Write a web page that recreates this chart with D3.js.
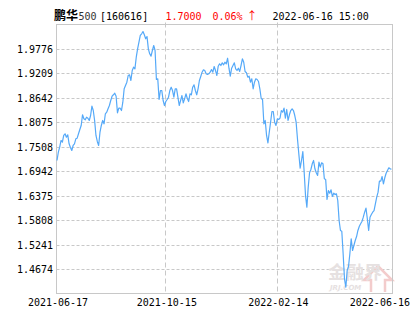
<!DOCTYPE html>
<html>
<head>
<meta charset="utf-8">
<script src="https://cdn.jsdelivr.net/npm/d3@7/dist/d3.min.js"></script>
<style>
  body { margin: 0; background: #fff; }
  svg { display: block; }
</style>
</head>
<body>
<div class="chart"></div>
<script>
'use strict'

const d3 = window.d3
const width = 415
const height = 330

// header
const fundName = '鹏华'
const fundSuffix = '500'
const fundCode = '[160616]'
const lastNav = '1.7000'
const lastChange = '0.06%'
const lastArrow = '↑'
const lastTime = '2022-06-16 15:00'

// axes
const xTickLabels = ['2021-06-17', '2021-10-15', '2022-02-14', '2022-06-16']
const xTickIndex = [0, 81, 164, 249]
const yTicks = [1.4674, 1.5241, 1.5808, 1.6375, 1.6942, 1.7508, 1.8075, 1.8642, 1.9209, 1.9776]

// daily nav
const nav = [
  1.7202, 1.7394, 1.7510, 1.7666, 1.7626, 1.7782, 1.7821, 1.7742, 1.7798, 1.7589,
  1.7503, 1.7434, 1.7550, 1.7589, 1.7705, 1.7719, 1.7821, 1.7921, 1.8014, 1.8262,
  1.8169, 1.8146, 1.8206, 1.8183, 1.8130, 1.8245, 1.8461, 1.8361, 1.8130, 1.7782,
  1.7643, 1.7550, 1.7858, 1.8014, 1.8130, 1.8053, 1.8285, 1.8322, 1.8401, 1.8477,
  1.8593, 1.8693, 1.8726, 1.8763, 1.8693, 1.8308, 1.8415, 1.8415, 1.8361, 1.8554,
  1.8865, 1.8941, 1.9018, 1.9173, 1.9189, 1.9057, 1.9289, 1.9366, 1.9328, 1.9597,
  1.9792, 1.9945, 2.0101, 2.0140, 2.0193, 2.0117, 2.0024, 2.0077, 1.9792, 1.9676,
  1.9621, 1.9753, 1.9869, 1.9753, 1.9080, 1.9097, 1.8616, 1.8825, 1.8825, 1.8593,
  1.8477, 1.8570, 1.8616, 1.8670, 1.8825, 1.8902, 1.8825, 1.8670, 1.8865, 1.8865,
  1.8670, 1.8477, 1.8593, 1.8709, 1.8540, 1.8633, 1.8749, 1.8640, 1.8570, 1.8749,
  1.8726, 1.8902, 1.8957, 1.8825, 1.8726, 1.8865, 1.9057, 1.9150, 1.9250, 1.9305,
  1.9289, 1.9212, 1.9196, 1.9212, 1.9250, 1.9312, 1.9250, 1.9382, 1.9289, 1.9173,
  1.9389, 1.9444, 1.9405, 1.9468, 1.9421, 1.9481, 1.9444, 1.9574, 1.9342, 1.9157,
  1.9342, 1.9405, 1.9468, 1.9328, 1.9289, 1.9342, 1.9266, 1.9405, 1.9560, 1.9481,
  1.9266, 1.9236, 1.9134, 1.9157, 1.9018, 1.9097, 1.8865, 1.9018, 1.9097, 1.9080,
  1.9034, 1.8865, 1.8640, 1.8616, 1.8053, 1.8130, 1.7782, 1.7612, 1.7858, 1.8090,
  1.8338, 1.8338, 1.8090, 1.8014, 1.8169, 1.8153, 1.8183, 1.8361, 1.8322, 1.8415,
  1.8183, 1.8385, 1.8130, 1.8262, 1.8361, 1.8401, 1.8361, 1.8245, 1.8090, 1.7705,
  1.7357, 1.7023, 1.7202, 1.7411, 1.6931, 1.6390, 1.6119, 1.6583, 1.6917, 1.6993,
  1.7125, 1.7202, 1.7009, 1.6917, 1.6854, 1.7163, 1.7047, 1.7149, 1.7125, 1.6778,
  1.6761, 1.6297, 1.6506, 1.6444, 1.6522, 1.6367, 1.6444, 1.6413, 1.6430, 1.6274,
  1.5811, 1.5579, 1.5562, 1.5038, 1.4458, 1.4264, 1.4651, 1.4744, 1.5038, 1.5386,
  1.5115, 1.5231, 1.5347, 1.5439, 1.5579, 1.5671, 1.5734, 1.5787, 1.5887, 1.6003,
  1.6096, 1.5850, 1.5579, 1.5887, 1.5950, 1.6003, 1.6042, 1.6198, 1.6351, 1.6467,
  1.6722, 1.6722, 1.6831, 1.6662, 1.6801, 1.6907, 1.6970, 1.7033, 1.7009, 1.7000
]

const plot = { left: 56.5, right: 392.5, top: 24.5, bottom: 293.5 }
const mono = '"DejaVu Sans Mono", "Liberation Mono", monospace'
const gridColor = '#c8c8c8'

const x = d3.scaleLinear()
    .domain([0, nav.length - 1])
    .range([57, 391.5])

const y = d3.scaleLinear()
    .domain([yTicks[0], yTicks[yTicks.length - 1]])
    .range([269.5, 49.5])

const svg = d3.select('.chart').append('svg')
    .attr('width', width)
    .attr('height', height)

function crisp(v) { return Math.floor(v) + 0.5 }

// horizontal grid
svg.append('g')
  .selectAll('line')
    .data(yTicks)
  .enter().append('line')
    .attr('x1', plot.left)
    .attr('x2', plot.right)
    .attr('y1', d => crisp(y(d)))
    .attr('y2', d => crisp(y(d)))
    .attr('stroke', gridColor)
    .attr('stroke-dasharray', '3,2')

// vertical grid (the two inner dates)
svg.append('g')
  .selectAll('line')
    .data(xTickIndex.slice(1, -1))
  .enter().append('line')
    .attr('x1', d => crisp(x(d)))
    .attr('x2', d => crisp(x(d)))
    .attr('y1', plot.top - 2)
    .attr('y2', plot.bottom)
    .attr('stroke', gridColor)
    .attr('stroke-dasharray', '5,3')

// watermark
const wm = svg.append('g')
wm.append('path')
    .attr('d', 'M371,292 L371,280 L364,280 L378,266 L392,280 L385,280 L385,292')
    .attr('fill', 'none')
    .attr('stroke', '#f3cccc')
    .attr('stroke-width', 2.5)
wm.append('text')
    .attr('x', 328)
    .attr('y', 279)
    .style('font-family', '"Noto Sans CJK SC", sans-serif')
    .style('font-size', '18px')
    .style('font-weight', 'bold')
    .attr('fill', '#e6e1e1')
    .text('金融界')
wm.append('text')
    .attr('x', 330)
    .attr('y', 290)
    .style('font-family', '"DejaVu Sans", sans-serif')
    .style('font-size', '7px')
    .style('font-weight', 'bold')
    .style('font-style', 'italic')
    .attr('fill', '#e6e1e1')
    .text('JRJ.COM')

// frame
svg.append('rect')
    .attr('x', plot.left)
    .attr('y', plot.top)
    .attr('width', plot.right - plot.left)
    .attr('height', plot.bottom - plot.top)
    .attr('fill', 'none')
    .attr('stroke', gridColor)

// nav line
const line = d3.line()
    .x((d, i) => x(i))
    .y(d => y(d))

svg.append('path')
    .datum(nav)
    .attr('d', line)
    .attr('fill', 'none')
    .attr('stroke', '#55a9f8')
    .attr('stroke-width', 1.2)
    .attr('stroke-linejoin', 'round')

// y labels
svg.append('g')
  .selectAll('text')
    .data(yTicks)
  .enter().append('text')
    .attr('x', 53)
    .attr('y', d => crisp(y(d)) + 3.5)
    .attr('text-anchor', 'end')
    .style('font-family', mono)
    .style('font-size', '10px')
    .attr('fill', '#000')
    .text(d => d.toFixed(4))

// x labels, kept inside the picture
svg.append('g')
  .selectAll('text')
    .data(xTickLabels)
  .enter().append('text')
    .attr('y', 306)
    .attr('text-anchor', 'middle')
    .style('font-family', mono)
    .style('font-size', '10px')
    .attr('fill', '#000')
    .text(d => d)
    .attr('x', function(d, i) {
      const w = this.getComputedTextLength()
      const cx = x(xTickIndex[i]) + 1
      return Math.min(cx, width - 5 - w / 2)
    })

// header line
const head = svg.append('text')
    .attr('y', 19.5)
    .style('font-family', mono)
    .style('font-size', '10px')
head.append('tspan')
    .attr('x', 54)
    .style('font-family', '"Noto Sans CJK SC", sans-serif')
    .style('font-size', '12px')
    .style('font-weight', 'bold')
    .attr('fill', '#000')
    .text(fundName)
head.append('tspan')
    .attr('x', 78.5)
    .attr('fill', '#333')
    .text(fundSuffix)
head.append('tspan')
    .attr('x', 100)
    .attr('fill', '#000')
    .text(fundCode)
head.append('tspan')
    .attr('x', 165.5)
    .attr('fill', '#ff0000')
    .text(lastNav)
head.append('tspan')
    .attr('x', 212.5)
    .attr('fill', '#ff0000')
    .text(lastChange)
head.append('tspan')
    .attr('x', 246.5)
    .attr('fill', '#ff0000')
    .style('font-family', '"Noto Sans CJK SC", sans-serif')
    .style('font-size', '11px')
    .text(lastArrow)
head.append('tspan')
    .attr('x', 272.5)
    .attr('fill', '#000')
    .text(lastTime)
</script>
</body>
</html>
